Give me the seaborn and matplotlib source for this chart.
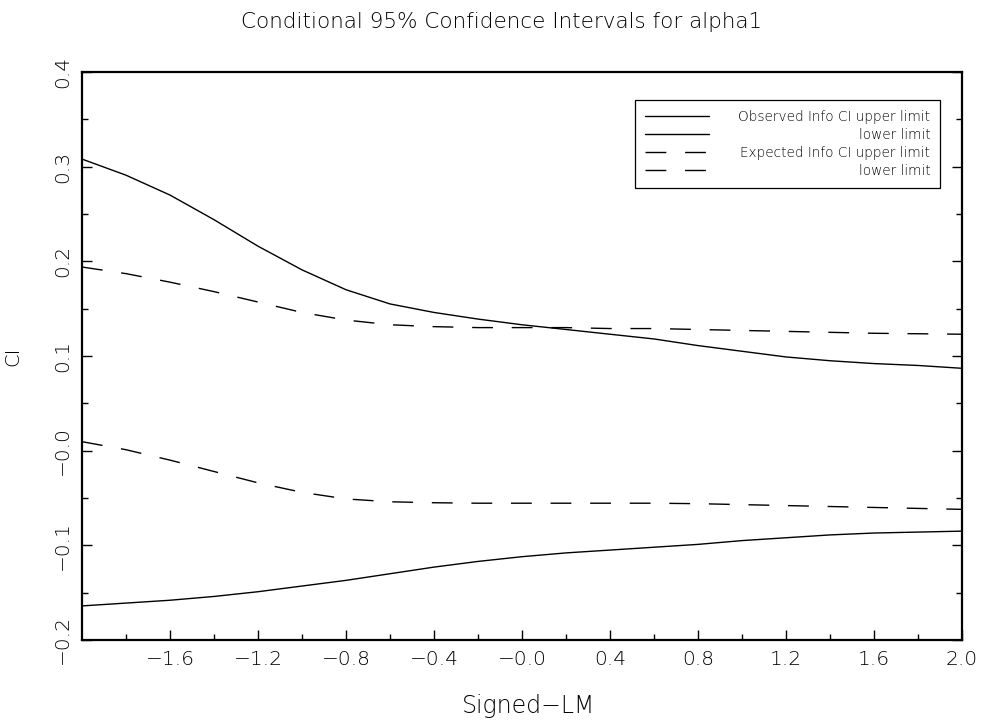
import numpy as np
import pandas as pd
import matplotlib
matplotlib.use("Agg")
import matplotlib.pyplot as plt
import seaborn as sns

# ---- data ----
signed_lm = [-2.0, -1.8, -1.6, -1.4, -1.2, -1.0, -0.8, -0.6, -0.4, -0.2, 0.0,
             0.2, 0.4, 0.6, 0.8, 1.0, 1.2, 1.4, 1.6, 1.8, 2.0]
obs_upper = [0.308, 0.291, 0.270, 0.244, 0.216, 0.191, 0.170, 0.155, 0.146, 0.139, 0.133,
             0.128, 0.123, 0.118, 0.111, 0.105, 0.099, 0.095, 0.092, 0.090, 0.087]
obs_lower = [-0.164, -0.161, -0.158, -0.154, -0.149, -0.143, -0.137, -0.130, -0.123, -0.117, -0.112,
             -0.108, -0.105, -0.102, -0.099, -0.095, -0.092, -0.089, -0.087, -0.086, -0.085]
exp_upper = [0.194, 0.187, 0.178, 0.168, 0.157, 0.146, 0.138, 0.133, 0.131, 0.130, 0.130,
             0.130, 0.129, 0.129, 0.128, 0.127, 0.126, 0.125, 0.124, 0.1235, 0.123]
exp_lower = [0.0095, 0.001, -0.010, -0.022, -0.034, -0.044, -0.051, -0.054, -0.055, -0.0555, -0.0555,
             -0.0555, -0.0555, -0.0555, -0.056, -0.057, -0.058, -0.059, -0.060, -0.061, -0.062]

series_labels = ["Observed Info CI upper limit", "lower limit",
                 "Expected Info CI upper limit", "lower limit"]

x_major = [-1.6, -1.2, -0.8, -0.4, 0.0, 0.4, 0.8, 1.2, 1.6, 2.0]
x_major_labels = ["\u22121.6", "\u22121.2", "\u22120.8", "\u22120.4", "\u22120.0",
                  "0.4", "0.8", "1.2", "1.6", "2.0"]
y_major = [-0.2, -0.1, 0.0, 0.1, 0.2, 0.3, 0.4]
y_major_labels = ["\u22120.2", "\u22120.1", "\u22120.0", "0.1", "0.2", "0.3", "0.4"]

title = "Conditional 95% Confidence Intervals for alpha1"
xlabel = "Signed\u2212LM"
ylabel = "CI"

# ---- style ----
sns.set_style("ticks")
plt.rcParams["font.family"] = ["DejaVu Sans"]
plt.rcParams["font.weight"] = "light"
plt.rcParams["text.color"] = "black"
plt.rcParams["axes.labelcolor"] = "black"
plt.rcParams["axes.labelweight"] = "light"
plt.rcParams["xtick.color"] = "black"
plt.rcParams["ytick.color"] = "black"

fig = plt.figure(figsize=(9.84, 7.2), dpi=100)
ax = fig.add_axes([82 / 984, 1 - 640 / 720, 880 / 984, 568 / 720])

df = pd.DataFrame({"x": signed_lm, "ou": obs_upper, "ol": obs_lower,
                   "eu": exp_upper, "el": exp_lower})

lw = 1.0
dash = (0, (15, 13.5))
sns.lineplot(data=df, x="x", y="ou", ax=ax, color="black", lw=lw, label=series_labels[0])
sns.lineplot(data=df, x="x", y="ol", ax=ax, color="black", lw=lw, label=series_labels[1])
sns.lineplot(data=df, x="x", y="eu", ax=ax, color="black", lw=lw, linestyle=dash, label=series_labels[2])
sns.lineplot(data=df, x="x", y="el", ax=ax, color="black", lw=lw, linestyle=dash, label=series_labels[3])

ax.set_xlim(-2.0, 2.0)
ax.set_ylim(-0.2, 0.4)

ax.set_xticks(x_major)
ax.set_xticklabels(x_major_labels)
ax.set_xticks(np.arange(-1.8, 2.0, 0.4), minor=True)
ax.set_yticks(y_major)
ax.set_yticklabels(y_major_labels, rotation=90, va="center")
ax.set_yticks(np.arange(-0.15, 0.4, 0.1), minor=True)

ax.tick_params(axis="both", which="both", direction="in", colors="black",
               labelsize=14.5, right=True, top=False, pad=7)
ax.tick_params(which="major", length=7, width=1.0)
ax.tick_params(which="minor", length=4.5, width=1.0)

for s in ax.spines.values():
    s.set_linewidth(1.6)
    s.set_color("black")

ax.set_xlabel(xlabel, fontsize=17, color="black")
ax.set_ylabel(ylabel, fontsize=14, color="black")
ax.xaxis.set_label_coords(0.507, -0.095)
ax.yaxis.set_label_coords(-0.068, 0.5)

fig.text(502 / 984, 1 - 22 / 720, title, ha="center", va="center", fontsize=15.5,
         color="black")

handles, labels = ax.get_legend_handles_labels()
leg = ax.legend(handles, labels, loc="upper right", bbox_to_anchor=(0.975, 0.951),
                borderaxespad=0, frameon=True, fancybox=False, edgecolor="black",
                framealpha=1, fontsize=9.8, handlelength=4.7, borderpad=0.72,
                labelspacing=0.3, handletextpad=1.0)
leg.get_frame().set_linewidth(0.9)
for t in leg.get_texts():
    t.set_color("black")
for col in leg._legend_handle_box.get_children():
    for row in col.get_children():
        row.mode = "expand"
        row.width = 285

fig.savefig("out.png", dpi=100, facecolor="white")
